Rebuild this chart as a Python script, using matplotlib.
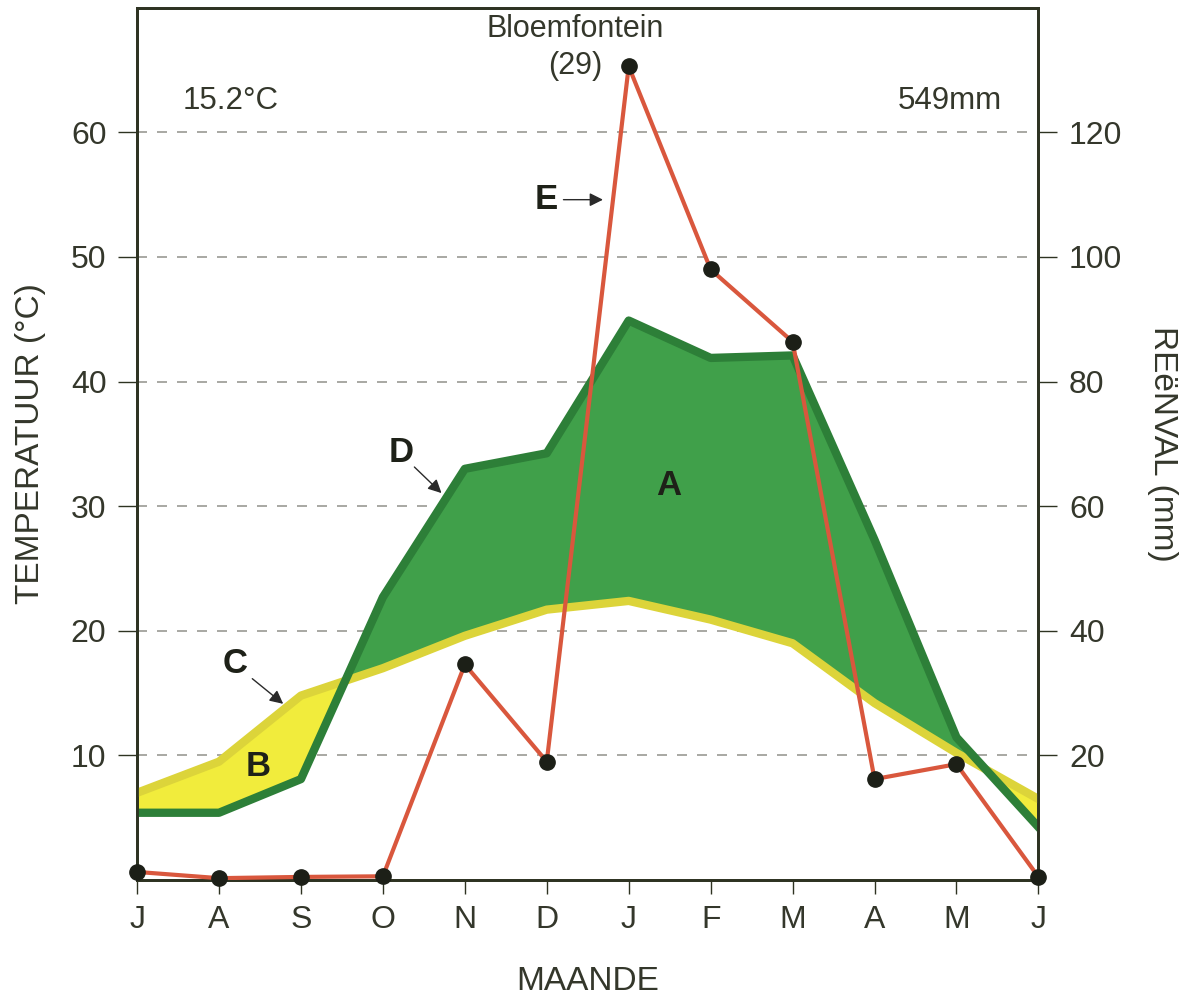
import matplotlib.pyplot as plt
import numpy as np

plt.rcParams['font.family'] = ['Liberation Sans', 'DejaVu Sans']

# Months (July to June)
months = ['J', 'A', 'S', 'O', 'N', 'D', 'J', 'F', 'M', 'A', 'M', 'J']

# C: temperature (deg C)
temperature = [7.0, 9.5, 14.8, 17.0, 19.6, 21.7, 22.4, 20.9, 19.0, 14.2, 10.2, 6.5]
# D: rainfall (mm), right axis
rainfall = [10.8, 10.8, 16.2, 45.4, 66.0, 68.5, 89.8, 83.8, 84.2, 54.6, 22.9, 8.5]
# E: red line (mm), right axis
line_e = [1.3, 0.3, 0.5, 0.6, 34.6, 19.0, 130.6, 98.0, 86.4, 16.2, 18.6, 0.5]

temp_ticks = [10, 20, 30, 40, 50, 60]
rain_ticks = [20, 40, 60, 80, 100, 120]

text_col = '#34372b'
spine_col = '#2e3322'
green = '#40a04a'
green_edge = '#2d7f38'
yellow = '#f1ec3c'
yellow_edge = '#dcd43a'
red = '#d9573d'

fig = plt.figure(figsize=(11.98, 9.98), dpi=100)
ax = fig.add_axes([0.1144, 0.1182, 0.7524, 0.874])
ax2 = ax.twinx()

x = np.arange(len(temperature))
temp = np.array(temperature)
rain_t = np.array(rainfall) / 2.0  # 2 mm per deg C

ax.fill_between(x, temp, rain_t, where=rain_t >= temp, interpolate=True,
                color=green, lw=0, zorder=2)
ax.fill_between(x, temp, rain_t, where=rain_t < temp, interpolate=True,
                color=yellow, lw=0, zorder=2)
ax.plot(x, temp, color=yellow_edge, lw=6, zorder=3, solid_joinstyle='round')
ax.plot(x, rain_t, color=green_edge, lw=6, zorder=4, solid_joinstyle='round')

ax2.plot(x, line_e, color=red, lw=3, zorder=5)
ax2.plot(x, line_e, 'o', color='#1c1f17', ms=11, zorder=6, clip_on=False)

ax.set_xlim(0, len(temperature) - 1)
ax.set_ylim(0, 70)
ax2.set_ylim(0, 140)
ax2.set_zorder(ax.get_zorder() + 1)
ax2.patch.set_visible(False)

for t in temp_ticks:
    ax.axhline(t, color='#9a9a94', lw=1.2, ls=(0, (6, 6)), zorder=1)

ax.set_xticks(x)
ax.set_xticklabels(months)
ax.set_yticks(temp_ticks)
ax2.set_yticks(rain_ticks)

for a in (ax, ax2):
    for s in a.spines.values():
        s.set_color(spine_col)
        s.set_linewidth(2)
    a.tick_params(colors=spine_col, labelcolor=text_col, length=10, width=1,
                  labelsize=23, pad=8)
ax.tick_params(axis='y', length=14)
ax2.tick_params(axis='y', length=14)

ax.set_ylabel('TEMPERATUUR (°C)', fontsize=24, color=text_col, labelpad=18)
ax2.set_ylabel('REëNVAL (mm)', fontsize=24, color=text_col, rotation=-90,
               labelpad=40)
ax.set_xlabel('MAANDE', fontsize=24, color=text_col, labelpad=22)

ax.text(0.56, 62.5, '15.2°C', fontsize=22.5, color=text_col, va='center')
ax.text(10.55, 62.5, '549mm', fontsize=22.5, color=text_col, ha='right',
        va='center')
ax.text(5.35, 68.3, 'Bloemfontein', fontsize=22, color=text_col,
        ha='center', va='center')
ax.text(5.35, 65.3, '(29)', fontsize=22, color=text_col, ha='center',
        va='center')

bold = dict(fontsize=25, fontweight='bold', color='#1e2118', zorder=8)
ax.text(6.49, 31.7, 'A', ha='center', va='center', **bold)
ax.text(1.48, 9.1, 'B', ha='center', va='center', **bold)
ax.text(1.2, 17.4, 'C', ha='center', va='center', **bold)
ax.text(3.22, 34.3, 'D', ha='center', va='center', **bold)
ax.text(4.99, 54.6, 'E', ha='center', va='center', **bold)

arrow = dict(arrowstyle='-|>', color='#2a2a2a', lw=1, mutation_scale=20)
ax.annotate('', xy=(1.81, 14.0), xytext=(1.38, 16.3), arrowprops=arrow, zorder=8)
ax.annotate('', xy=(3.74, 30.9), xytext=(3.36, 33.3), arrowprops=arrow, zorder=8)
ax.annotate('', xy=(5.72, 54.6), xytext=(5.17, 54.6), arrowprops=arrow, zorder=8)

fig.savefig('out.png', dpi=100)
